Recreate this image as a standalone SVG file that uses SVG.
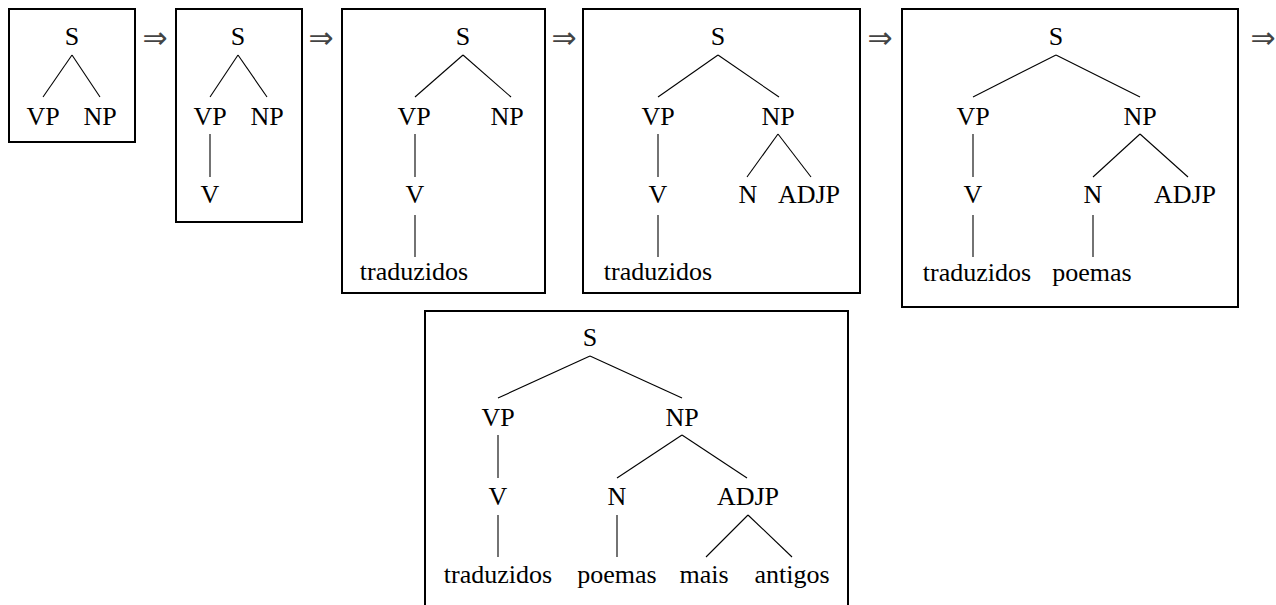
<svg xmlns="http://www.w3.org/2000/svg" width="1276" height="605" viewBox="0 0 1276 605">
  <style>
    .frame { fill: none; stroke: #000; stroke-width: 2; }
    .lbl { font-family: "Liberation Serif", "Times New Roman", Tinos, "DejaVu Serif", serif; font-size: 26px; fill: #000; text-anchor: middle; }
    .arr { font-family: "DejaVu Sans", sans-serif; font-size: 30px; fill: #444; text-anchor: middle; }
    .edge line { stroke: #000; stroke-width: 1.1; }
  </style>
  <rect width="1276" height="605" fill="#fff"/>

  <!-- frames around each derivation step -->
  <g id="frames">
    <rect class="frame" x="9" y="9" width="126" height="133"/>
    <rect class="frame" x="176" y="9" width="126" height="213"/>
    <rect class="frame" x="342" y="9" width="203" height="284"/>
    <rect class="frame" x="583" y="9" width="277" height="284"/>
    <rect class="frame" x="902" y="9" width="336" height="298"/>
    <path class="frame" d="M425,606 V311 H848 V606"/>
  </g>

  <!-- derivation arrows -->
  <g id="arrows">
    <text class="arr" x="155" y="48">⇒</text>
    <text class="arr" x="321" y="48">⇒</text>
    <text class="arr" x="564" y="48">⇒</text>
    <text class="arr" x="880" y="48">⇒</text>
    <text class="arr" x="1263" y="48">⇒</text>
  </g>

  <!-- tree branches -->
  <g id="connectors" class="edge">
    <!-- step 1 -->
    <line x1="72" y1="55" x2="43" y2="97"/>
    <line x1="72" y1="55" x2="100" y2="97"/>
    <!-- step 2 -->
    <line x1="238" y1="55" x2="210" y2="97"/>
    <line x1="238" y1="55" x2="267" y2="97"/>
    <line x1="210" y1="134" x2="210" y2="177"/>
    <!-- step 3 -->
    <line x1="463" y1="55" x2="415" y2="97"/>
    <line x1="463" y1="55" x2="511" y2="97"/>
    <line x1="415" y1="134" x2="415" y2="177"/>
    <line x1="415" y1="215" x2="415" y2="257"/>
    <!-- step 4 -->
    <line x1="718" y1="55" x2="658" y2="97"/>
    <line x1="718" y1="55" x2="779" y2="97"/>
    <line x1="658" y1="134" x2="658" y2="177"/>
    <line x1="778" y1="134" x2="747" y2="177"/>
    <line x1="778" y1="134" x2="811" y2="177"/>
    <line x1="658" y1="215" x2="658" y2="257"/>
    <!-- step 5 -->
    <line x1="1056" y1="55" x2="973" y2="97"/>
    <line x1="1056" y1="55" x2="1140" y2="97"/>
    <line x1="973" y1="134" x2="973" y2="177"/>
    <line x1="1140" y1="134" x2="1093" y2="177"/>
    <line x1="1140" y1="134" x2="1188" y2="177"/>
    <line x1="973" y1="215" x2="973" y2="257"/>
    <line x1="1093" y1="215" x2="1093" y2="257"/>
    <!-- step 6 -->
    <line x1="590" y1="356" x2="498" y2="398"/>
    <line x1="590" y1="356" x2="682" y2="398"/>
    <line x1="498" y1="435" x2="498" y2="478"/>
    <line x1="682" y1="435" x2="617" y2="478"/>
    <line x1="682" y1="435" x2="747" y2="478"/>
    <line x1="498" y1="515" x2="498" y2="557"/>
    <line x1="617" y1="515" x2="617" y2="557"/>
    <line x1="748" y1="515" x2="706" y2="557"/>
    <line x1="748" y1="515" x2="792" y2="557"/>
  </g>

  <!-- step 1 nodes -->
  <g id="t1-S"><text class="lbl" x="72" y="45">S</text></g>
  <g id="t1-VP"><text class="lbl" x="43" y="125">VP</text></g>
  <g id="t1-NP"><text class="lbl" x="100" y="125">NP</text></g>

  <!-- step 2 nodes -->
  <g id="t2-S"><text class="lbl" x="238" y="45">S</text></g>
  <g id="t2-VP"><text class="lbl" x="210" y="125">VP</text></g>
  <g id="t2-NP"><text class="lbl" x="267" y="125">NP</text></g>
  <g id="t2-V"><text class="lbl" x="210" y="203">V</text></g>

  <!-- step 3 nodes -->
  <g id="t3-S"><text class="lbl" x="463" y="45">S</text></g>
  <g id="t3-VP"><text class="lbl" x="414" y="125">VP</text></g>
  <g id="t3-NP"><text class="lbl" x="507" y="125">NP</text></g>
  <g id="t3-V"><text class="lbl" x="415" y="203">V</text></g>
  <g id="t3-traduzidos"><text class="lbl" x="414" y="280">traduzidos</text></g>

  <!-- step 4 nodes -->
  <g id="t4-S"><text class="lbl" x="718" y="45">S</text></g>
  <g id="t4-VP"><text class="lbl" x="658" y="125">VP</text></g>
  <g id="t4-NP"><text class="lbl" x="778" y="125">NP</text></g>
  <g id="t4-V"><text class="lbl" x="658" y="203">V</text></g>
  <g id="t4-N"><text class="lbl" x="748" y="203">N</text></g>
  <g id="t4-ADJP"><text class="lbl" x="809" y="203">ADJP</text></g>
  <g id="t4-traduzidos"><text class="lbl" x="658" y="280">traduzidos</text></g>

  <!-- step 5 nodes -->
  <g id="t5-S"><text class="lbl" x="1056" y="45">S</text></g>
  <g id="t5-VP"><text class="lbl" x="973" y="125">VP</text></g>
  <g id="t5-NP"><text class="lbl" x="1140" y="125">NP</text></g>
  <g id="t5-V"><text class="lbl" x="973" y="203">V</text></g>
  <g id="t5-N"><text class="lbl" x="1093" y="203">N</text></g>
  <g id="t5-ADJP"><text class="lbl" x="1185" y="203">ADJP</text></g>
  <g id="t5-traduzidos"><text class="lbl" x="977" y="281">traduzidos</text></g>
  <g id="t5-poemas"><text class="lbl" x="1092" y="281">poemas</text></g>

  <!-- step 6 nodes -->
  <g id="t6-S"><text class="lbl" x="590" y="346">S</text></g>
  <g id="t6-VP"><text class="lbl" x="498" y="426">VP</text></g>
  <g id="t6-NP"><text class="lbl" x="682" y="426">NP</text></g>
  <g id="t6-V"><text class="lbl" x="498" y="505">V</text></g>
  <g id="t6-N"><text class="lbl" x="617" y="505">N</text></g>
  <g id="t6-ADJP"><text class="lbl" x="748" y="505">ADJP</text></g>
  <g id="t6-traduzidos"><text class="lbl" x="498" y="583">traduzidos</text></g>
  <g id="t6-poemas"><text class="lbl" x="617" y="583">poemas</text></g>
  <g id="t6-mais"><text class="lbl" x="704" y="583">mais</text></g>
  <g id="t6-antigos"><text class="lbl" x="792" y="583">antigos</text></g>
</svg>
